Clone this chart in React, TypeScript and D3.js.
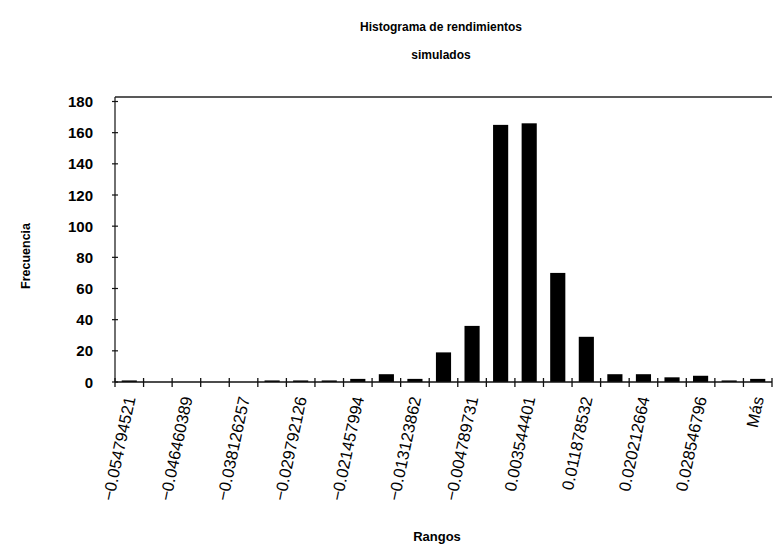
import React from 'react';
import * as d3 from 'd3';

// Excel histogram bins (every other label is shown on the axis)
const bins = [
  '−0.054794521', '−0.050627455', '−0.046460389', '−0.042293323',
  '−0.038126257', '−0.033959191', '−0.029792126', '−0.02562506',
  '−0.021457994', '−0.017290928', '−0.013123862', '−0.008956796',
  '−0.004789731', '−0.000622665', '0.003544401', '0.007711467',
  '0.011878532', '0.016045598', '0.020212664', '0.02437973',
  '0.028546796', '0.032713862', 'Más',
];
const counts = [1, 0, 0, 0, 0, 1, 1, 1, 2, 5, 2, 19, 36, 165, 166, 70, 29, 5, 5, 3, 4, 1, 2];
const yTicks = [0, 20, 40, 60, 80, 100, 120, 140, 160, 180];

const W = 774;
const H = 551;
const margin = { left: 115, right: 2, top: 97, bottom: 169 };
const FONT = '"Liberation Sans", Arial, Helvetica, sans-serif';

const App: React.FC = () => {
  const x = d3.scaleBand<number>()
    .domain(d3.range(bins.length))
    .range([margin.left, W - margin.right])
    .paddingInner(0.47)
    .paddingOuter(0.235);
  const step = x.step();
  const x0 = margin.left;
  const y = d3.scaleLinear().domain([0, 180]).range([382, 101.5]);
  const baseY = y(0);

  return (
    <div style={{ position: 'absolute', left: 0, top: 0 }}>
      <svg width={W} height={H} style={{ display: 'block', background: '#fff' }}>
        {/* title */}
        <text x={441} y={31} textAnchor="middle" fontFamily={FONT} fontWeight="bold" fontSize={12}>
          Histograma de rendimientos
        </text>
        <text x={441} y={59} textAnchor="middle" fontFamily={FONT} fontWeight="bold" fontSize={12}>
          simulados
        </text>

        {/* frame */}
        <line x1={x0} x2={W - margin.right} y1={margin.top} y2={margin.top} stroke="#222" strokeWidth={1.3} />
        <line x1={x0} x2={x0} y1={margin.top} y2={baseY} stroke="#222" strokeWidth={1.3} />

        {/* bars */}
        {counts.map((c, i) => (
          c > 0 ? (
            <rect key={i} x={x(i)} y={y(c)} width={x.bandwidth()} height={baseY - y(c)} fill="#000" />
          ) : null
        ))}

        {/* x axis */}
        <line x1={x0} x2={W - margin.right} y1={baseY} y2={baseY} stroke="#111" strokeWidth={1.5} />
        {d3.range(bins.length + 1).map(i => (
          <line key={i} x1={x0 + i * step} x2={x0 + i * step} y1={baseY - 4} y2={baseY + 5} stroke="#111" strokeWidth={1.3} />
        ))}
        {bins.map((b, i) => {
          if (i % 2 !== 0) return null;
          const cx = x0 + (i + 0.5) * step + 2;
          return (
            <text key={b} transform={`translate(${cx},397) rotate(-78)`} textAnchor="end"
              dominantBaseline="middle" fontFamily={FONT} fontSize={16.5}>
              {b}
            </text>
          );
        })}

        {/* y axis */}
        {yTicks.map(t => (
          <g key={t}>
            <line x1={x0 - 3} x2={x0 + 3} y1={y(t)} y2={y(t)} stroke="#111" strokeWidth={1.2} />
            <text x={93} y={y(t)} textAnchor="end" dominantBaseline="central" fontFamily={FONT}
              fontWeight="bold" fontSize={15}>
              {t}
            </text>
          </g>
        ))}

        {/* axis titles */}
        <text transform="translate(27,256) rotate(-90)" textAnchor="middle" dominantBaseline="middle"
          fontFamily={FONT} fontWeight="bold" fontSize={12.5}>
          Frecuencia
        </text>
        <text x={437} y={541} textAnchor="middle" fontFamily={FONT} fontWeight="bold" fontSize={13}>
          Rangos
        </text>
      </svg>
    </div>
  );
};

export default App;
